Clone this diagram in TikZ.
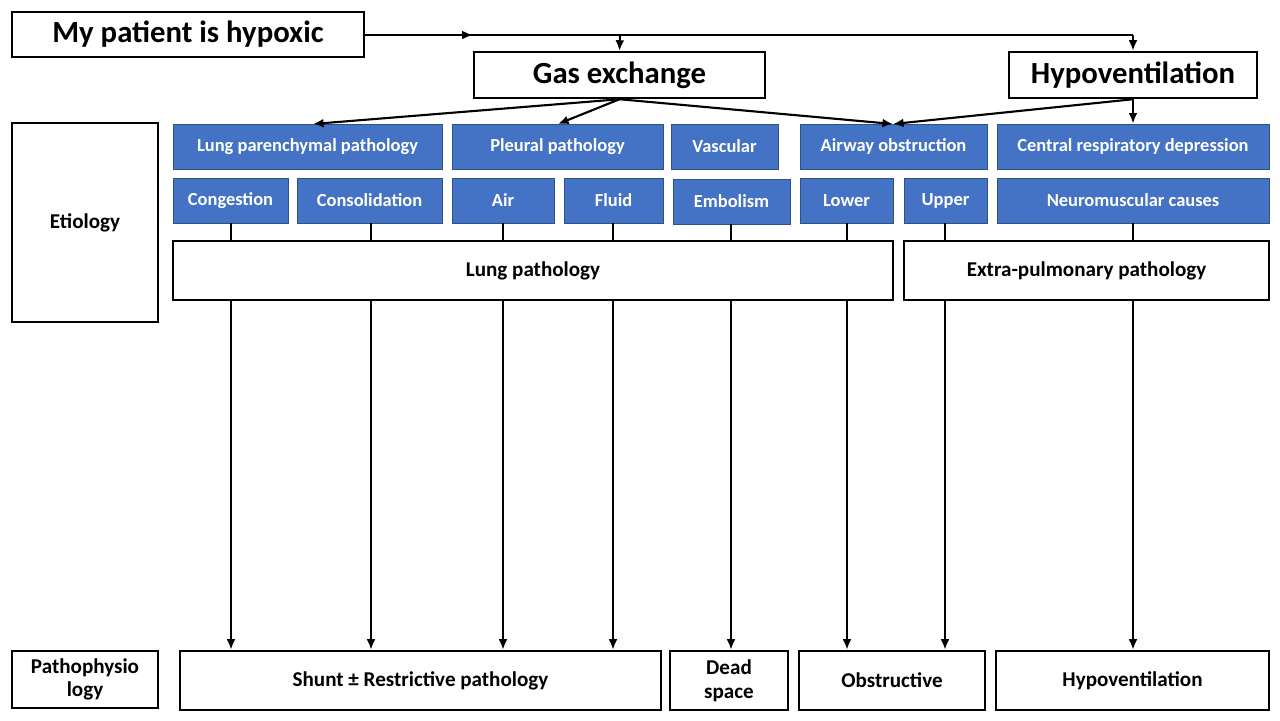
\documentclass[tikz,border=0pt]{standalone}
\usepackage{fontspec}
\setmainfont{Carlito}
\usetikzlibrary{arrows.meta,decorations.markings}
\definecolor{boxblue}{HTML}{4472C4}
\tikzset{
  x=0.02cm, y=-0.02cm,
  wbox/.style={draw=black, line width=1.4pt, fill=white, inner sep=0pt, align=center, font=\bfseries\fontsize{12}{13.5}\selectfont},
  tbox/.style={wbox, font=\bfseries\fontsize{17.5}{20}\selectfont},
  bbox/.style={draw=boxblue!70!black, line width=0.4pt, fill=boxblue, text=white, inner sep=0pt, font=\bfseries\fontsize{10.5}{12}\selectfont},
  link/.style={line width=1.2pt, -{Latex[length=6pt,width=5pt]}},
}
\newcommand\boxat[6]{% name, style, x1, y1, x2, y2 ... text follows
  \node[#2, minimum width={(#5-#3)*0.02cm}, minimum height={(#6-#4)*0.02cm}] (#1) at ({(#3+#5)/2},{(#4+#6)/2})}
\begin{document}
\begin{tikzpicture}
\useasboundingbox (0,0) rectangle (1280,720);
\fill[white] (0,0) rectangle (1280,720);

% top level
\boxat{hypoxic}{tbox}{12}{12}{364}{57} {My patient is hypoxic};
\boxat{gas}{tbox}{474}{52}{765}{98} {Gas exchange};
\boxat{hypo}{tbox}{1009}{52}{1257}{98} {Hypoventilation};
\coordinate (split) at (620,35);
\coordinate (corner) at (1133,35);
\draw[line width=1.2pt, postaction={decorate}, decoration={markings, mark=at position 0.14 with {\arrow{Latex[length=6pt,width=5pt]}}}] (hypoxic.east |- split) -- (corner);
\draw[link] (split) -- (gas.north);
\draw[link] (corner) -- (hypo.north);

% side labels
\boxat{etiology}{wbox}{12}{123}{158}{322} {Etiology};
\boxat{patho}{wbox}{12}{651}{158}{708} {Pathophysio\\logy};

% etiology, first row
\boxat{paren}{bbox}{173}{124}{442}{169} {Lung parenchymal pathology};
\boxat{pleural}{bbox}{452}{124}{663}{169} {Pleural pathology};
\boxat{vasc}{bbox}{671}{124}{778}{169} {Vascular};
\boxat{airway}{bbox}{800}{124}{987}{169} {Airway obstruction};
\boxat{central}{bbox}{997}{124}{1269}{169} {Central respiratory depression};

% etiology, second row
\boxat{cong}{bbox}{173}{178}{288}{223} {Congestion};
\boxat{consol}{bbox}{297}{178}{442}{223} {Consolidation};
\boxat{air}{bbox}{452}{178}{554}{223} {Air};
\boxat{fluid}{bbox}{564}{178}{663}{223} {Fluid};
\boxat{embol}{bbox}{673}{179}{790}{224} {Embolism};
\boxat{lower}{bbox}{800}{178}{893}{223} {Lower};
\boxat{upper}{bbox}{904}{178}{987}{223} {Upper};
\boxat{neuro}{bbox}{997}{178}{1269}{223} {Neuromuscular causes};

\coordinate (parenin) at (313,124);
\coordinate (pleurin) at (558,124);
\coordinate (airin) at (893,124);
\draw[link] (gas.south) -- (parenin);
\draw[link] (gas.south) -- (pleurin);
\draw[link] (gas.south) -- (airin);
\draw[link] (hypo.south) -- (airin);
\draw[link] (hypo.south) -- (central.north);

% pathophysiology
\boxat{shunt}{wbox}{180}{651}{661}{710} {Shunt ± Restrictive pathology};
\boxat{dead}{wbox}{670}{651}{788}{710} {Dead\\space};
\boxat{obstr}{wbox}{799}{651}{985}{710} {Obstructive};
\boxat{hypov}{wbox}{996}{651}{1269}{710} {Hypoventilation};

\foreach \src/\dst/\px in {cong/shunt/231, consol/shunt/371, air/shunt/503, fluid/shunt/613,
    embol/dead/731, lower/obstr/847, upper/obstr/945, neuro/hypov/1133}
  \draw[link] (\px,0 |- \src.south) -- (\px,0 |- \dst.north);

% lung / extra-pulmonary
\boxat{lung}{wbox}{173}{241}{893}{300} {Lung pathology};
\boxat{extra}{wbox}{904}{241}{1269}{300} {Extra-pulmonary pathology};
\end{tikzpicture}
\end{document}
